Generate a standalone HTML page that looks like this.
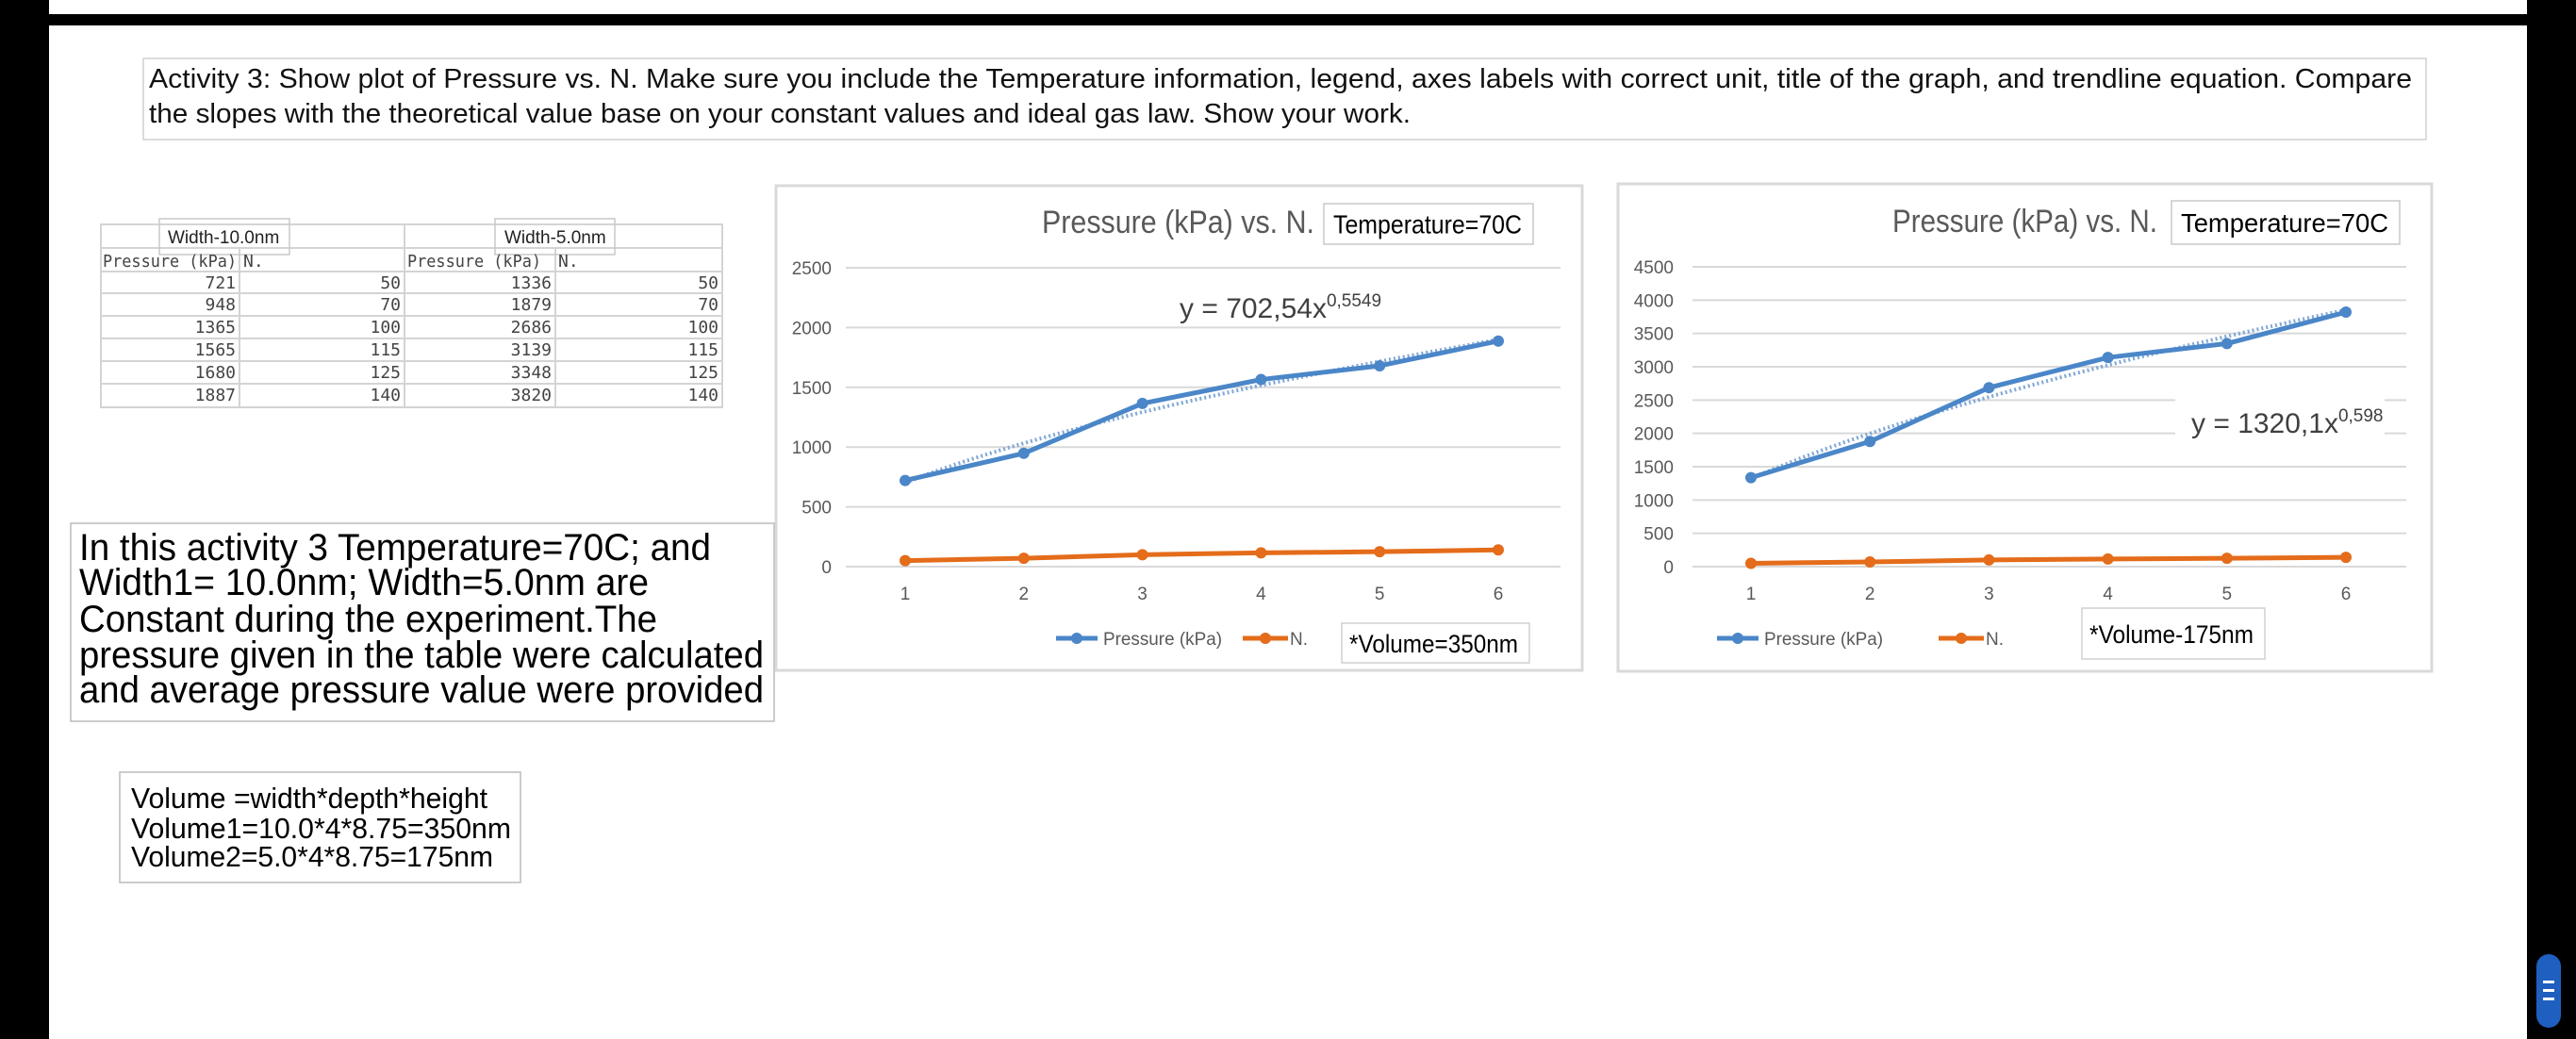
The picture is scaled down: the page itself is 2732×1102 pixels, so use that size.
<!DOCTYPE html>
<html><head><meta charset="utf-8"><style>
html,body{margin:0;padding:0;background:#000;}
svg{display:block;}
text{font-family:"Liberation Sans",sans-serif;}
.mono{font-family:"DejaVu Sans Mono","Liberation Mono",monospace;}
</style></head><body>
<svg id="root" width="2732" height="1102" viewBox="0 0 2732 1102" xmlns="http://www.w3.org/2000/svg">
<rect x="0" y="0" width="2732" height="1102" fill="#000"/>
<rect x="52" y="0" width="2628" height="15" fill="#fff"/>
<rect x="52" y="27" width="2628" height="1075" fill="#fff"/>

<g>
<rect x="152" y="62" width="2421" height="86" fill="#fff" stroke="#d0d0d0" stroke-width="1.5"/>
<text x="158" y="93" font-size="29" fill="#111" textLength="2400" lengthAdjust="spacingAndGlyphs">Activity 3:  Show plot of Pressure vs. N.  Make sure you include the Temperature information, legend, axes labels with correct unit, title of the graph, and trendline equation.  Compare</text>
<text x="158" y="130" font-size="29" fill="#111" textLength="1338" lengthAdjust="spacingAndGlyphs">the slopes with the theoretical value base on your constant values and ideal gas law.  Show your work.</text>
</g>

<g id="table"></g>

<g>
<rect x="75" y="555" width="746" height="210" fill="#fff" stroke="#bbb" stroke-width="1.5"/>
<text x="84" y="594" font-size="40" fill="#000" textLength="670" lengthAdjust="spacingAndGlyphs">In this activity 3 Temperature=70C; and</text>
<text x="84" y="631" font-size="40" fill="#000" textLength="604" lengthAdjust="spacingAndGlyphs">Width1=  10.0nm; Width=5.0nm are</text>
<text x="84" y="670" font-size="40" fill="#000" textLength="613" lengthAdjust="spacingAndGlyphs">Constant during the experiment.The</text>
<text x="84" y="708" font-size="40" fill="#000" textLength="726" lengthAdjust="spacingAndGlyphs">pressure given in the table were calculated</text>
<text x="84" y="745" font-size="40" fill="#000" textLength="726" lengthAdjust="spacingAndGlyphs">and average pressure value were provided</text>
</g>

<g>
<rect x="127" y="819" width="425" height="117" fill="#fff" stroke="#bbb" stroke-width="1.5"/>
<text x="139" y="857" font-size="31" fill="#000" textLength="378" lengthAdjust="spacingAndGlyphs">Volume =width*depth*height</text>
<text x="139" y="889" font-size="31" fill="#000" textLength="403" lengthAdjust="spacingAndGlyphs">Volume1=10.0*4*8.75=350nm</text>
<text x="139" y="919" font-size="31" fill="#000" textLength="384" lengthAdjust="spacingAndGlyphs">Volume2=5.0*4*8.75=175nm</text>
</g>

<g id="chart1"></g>
<g id="chart2"></g>

<rect x="2690" y="1012" width="26" height="78" rx="13" fill="#1f5fbf"/>
<rect x="2697" y="1040" width="12" height="3" fill="#fff"/>
<rect x="2697" y="1049" width="12" height="3" fill="#fff"/>
<rect x="2697" y="1058" width="12" height="3" fill="#fff"/>
</svg>
<script>
const NS = "http://www.w3.org/2000/svg";
const categories = [1, 2, 3, 4, 5, 6];
const pressure1 = [721, 948, 1365, 1565, 1680, 1887];
const nValues1 = [50, 70, 100, 115, 125, 140];
const pressure2 = [1336, 1879, 2686, 3139, 3348, 3820];
const nValues2 = [50, 70, 100, 115, 125, 140];
const ticks1 = [0, 500, 1000, 1500, 2000, 2500];
const ticks2 = [0, 500, 1000, 1500, 2000, 2500, 3000, 3500, 4000, 4500];
const trend1 = [702.54, 0.5549];
const trend2 = [1320.1, 0.598];

function mk(parent, tag, attrs, txt) {
  const e = document.createElementNS(NS, tag);
  for (const k in attrs) e.setAttribute(k, attrs[k]);
  if (txt !== undefined) e.textContent = txt;
  parent.appendChild(e);
  return e;
}

// table
(function () {
  const t = document.getElementById('table');
  const cols = [107, 254, 429, 589, 766];
  const rows = [238, 263, 288, 311, 335, 359, 383, 407, 432];
  const g1 = mk(t, 'rect', {x: 107, y: 238, width: 659, height: 194, fill: '#fff', stroke: '#d4d4d4', 'stroke-width': 2});
  
  
  rows.forEach(function (y) { mk(t, 'line', {x1: 107, x2: 766, y1: y, y2: y, stroke: '#d4d4d4', 'stroke-width': 2}); });
  [254, 589].forEach(function (x) { mk(t, 'line', {x1: x, x2: x, y1: 263, y2: 432, stroke: '#d4d4d4', 'stroke-width': 2}); });
  mk(t, 'line', {x1: 429, x2: 429, y1: 238, y2: 432, stroke: '#d4d4d4', 'stroke-width': 2});
  mk(t, 'rect', {x: 169, y: 232, width: 138, height: 38, fill: 'none', stroke: '#c8c8c8', 'stroke-width': 1.5});
  mk(t, 'rect', {x: 525, y: 232, width: 127, height: 38, fill: 'none', stroke: '#c8c8c8', 'stroke-width': 1.5});
  const h1 = mk(t, 'text', {x: 178, y: 258, 'font-size': 19, fill: '#222'}, 'Width-10.0nm');
  
  
  const h2 = mk(t, 'text', {x: 535, y: 258, 'font-size': 19, fill: '#222'}, 'Width-5.0nm');
  
  
  mk(t, 'text', {x: 109, y: 283, 'font-size': 18, fill: '#444', class: 'mono', textLength: 142, lengthAdjust: 'spacingAndGlyphs'}, 'Pressure (kPa)');
  mk(t, 'text', {x: 258, y: 283, 'font-size': 18, fill: '#444', class: 'mono'}, 'N.');
  mk(t, 'text', {x: 432, y: 283, 'font-size': 18, fill: '#444', class: 'mono', textLength: 142, lengthAdjust: 'spacingAndGlyphs'}, 'Pressure (kPa)');
  mk(t, 'text', {x: 592, y: 283, 'font-size': 18, fill: '#444', class: 'mono'}, 'N.');
  for (let i = 0; i < 6; i++) {
    const y = rows[i + 2] + 18;
    [[pressure1[i], 250], [nValues1[i], 425], [pressure2[i], 585], [nValues2[i], 762]].forEach(function (p) {
      const c = mk(t, 'text', {x: p[1], y: y, 'font-size': 18, fill: '#444', class: 'mono', 'text-anchor': 'end'}, String(p[0]));
      
      
    });
  }
})();

function drawChart(id, cfg) {
  const g = document.getElementById(id);
  mk(g, 'rect', {x: cfg.fx, y: cfg.fy, width: cfg.fw, height: cfg.fh, fill: '#fff', stroke: '#d9d9d9', 'stroke-width': 3});
  const ymax = cfg.ticks[cfg.ticks.length - 1];
  const yS = function (v) { return cfg.y0 - (v / ymax) * (cfg.y0 - cfg.yTop); };
  const xS = function (c) { return cfg.c1 + (c - 1) * (cfg.c6 - cfg.c1) / 5; };
  cfg.ticks.forEach(function (v) {
    const gl = mk(g, 'line', {x1: cfg.gx1, x2: cfg.gx2, y1: yS(v), y2: yS(v), stroke: '#d9d9d9', 'stroke-width': 2});
    
    
    const tl = mk(g, 'text', {x: cfg.lx, y: yS(v) + 7, 'font-size': 19, fill: '#595959', 'text-anchor': 'end'}, String(v));
    
    
  });
  categories.forEach(function (c) {
    const xl = mk(g, 'text', {x: xS(c), y: cfg.y0 + 35, 'font-size': 19, fill: '#595959', 'text-anchor': 'middle'}, String(c));
    
    
  });
  // equation box (white bg)
  if (cfg.eqBox) mk(g, 'rect', {x: cfg.eqBox[0], y: cfg.eqBox[1], width: cfg.eqBox[2], height: cfg.eqBox[3], fill: '#fff'});
  // trendline
  let tp = [];
  for (let k = 0; k <= 50; k++) {
    const c = 1 + 5 * k / 50;
    tp.push(xS(c).toFixed(1) + ',' + yS(cfg.trend[0] * Math.pow(c, cfg.trend[1])).toFixed(1));
  }
  const tr = mk(g, 'polyline', {points: tp.join(' '), fill: 'none', stroke: '#7fa7d6', 'stroke-width': 4, 'stroke-dasharray': '2 3'});
  
  
  [[cfg.p, '#4a86c8', 'pressure-series'], [cfg.n, '#e46c1a', 'n-series']].forEach(function (s) {
    const pts = categories.map(function (c, i) { return xS(c) + ',' + yS(s[0][i]); }).join(' ');
    const ln = mk(g, 'polyline', {points: pts, fill: 'none', stroke: s[1], 'stroke-width': 5, 'stroke-linejoin': 'round'});
    
    
    categories.forEach(function (c, i) {
      const m = mk(g, 'circle', {cx: xS(c), cy: yS(s[0][i]), r: 6, fill: s[1]});
      
      
    });
  });
  const tt = mk(g, 'text', {x: cfg.tx, y: cfg.ty, 'font-size': 34, fill: '#595959', textLength: cfg.tw, lengthAdjust: 'spacingAndGlyphs'}, 'Pressure (kPa) vs. N.');
  
  
  mk(g, 'rect', {x: cfg.tb[0], y: cfg.tb[1], width: cfg.tb[2], height: cfg.tb[3], fill: '#fff', stroke: '#c8c8c8', 'stroke-width': 1.5});
  const tp2 = mk(g, 'text', {x: cfg.tb[0] + 10, y: cfg.tb[1] + cfg.tb[3] / 2 + 10, 'font-size': 28, fill: '#000', textLength: cfg.tb[2] - 22, lengthAdjust: 'spacingAndGlyphs'}, 'Temperature=70C');
  
  
  const eq = mk(g, 'text', {x: cfg.eq[0], y: cfg.eq[1], 'font-size': 30, fill: '#404040'});
  
  
  mk(eq, 'tspan', {}, cfg.eqText);
  mk(eq, 'tspan', {dy: -12, 'font-size': 19}, cfg.eqExp);
  // legend
  const lg = mk(g, 'g', {});
  
  
  mk(lg, 'line', {x1: cfg.lg[0], x2: cfg.lg[0] + 44, y1: 677, y2: 677, stroke: '#4a86c8', 'stroke-width': 5});
  mk(lg, 'circle', {cx: cfg.lg[0] + 22, cy: 677, r: 6, fill: '#4a86c8'});
  mk(lg, 'text', {x: cfg.lg[0] + 50, y: 684, 'font-size': 19, fill: '#595959', textLength: 126, lengthAdjust: 'spacingAndGlyphs'}, 'Pressure (kPa)');
  mk(lg, 'line', {x1: cfg.lg[1], x2: cfg.lg[1] + 48, y1: 677, y2: 677, stroke: '#e46c1a', 'stroke-width': 5});
  mk(lg, 'circle', {cx: cfg.lg[1] + 24, cy: 677, r: 6, fill: '#e46c1a'});
  mk(lg, 'text', {x: cfg.lg[1] + 50, y: 684, 'font-size': 19, fill: '#595959'}, 'N.');
  mk(g, 'rect', {x: cfg.vb[0], y: cfg.vb[1], width: cfg.vb[2], height: cfg.vb[3], fill: '#fff', stroke: '#d0d0d0', 'stroke-width': 1.5});
  const vt = mk(g, 'text', {x: cfg.vb[0] + 8, y: cfg.vb[1] + cfg.vb[3] / 2 + 10, 'font-size': 27, fill: '#000', textLength: cfg.vb[2] - 20, lengthAdjust: 'spacingAndGlyphs'}, cfg.vol);
  
  
}

drawChart('chart1', {fx: 823, fy: 197, fw: 855, fh: 514, ticks: ticks1, y0: 601, yTop: 284, gx1: 897, gx2: 1655, lx: 882, c1: 960, c6: 1589,
  p: pressure1, n: nValues1, trend: trend1, tx: 1105, ty: 247, tw: 289, tb: [1404, 216, 222, 43],
  eq: [1251, 337], eqText: 'y = 702,54x', eqExp: '0,5549', lg: [1120, 1318], vb: [1423, 661, 199, 42], vol: '*Volume=350nm'});
drawChart('chart2', {fx: 1716, fy: 195, fw: 863, fh: 517, ticks: ticks2, y0: 601, yTop: 283, gx1: 1795, gx2: 2552, lx: 1775, c1: 1857, c6: 2488,
  p: pressure2, n: nValues2, trend: trend2, tx: 2007, ty: 246, tw: 281, tb: [2303, 213, 242, 46],
  eq: [2324, 459], eqText: 'y = 1320,1x', eqExp: '0,598', eqBox: [2307, 423, 222, 39], lg: [1821, 2056], vb: [2208, 645, 194, 54], vol: '*Volume-175nm'});
</script>
</body></html>
